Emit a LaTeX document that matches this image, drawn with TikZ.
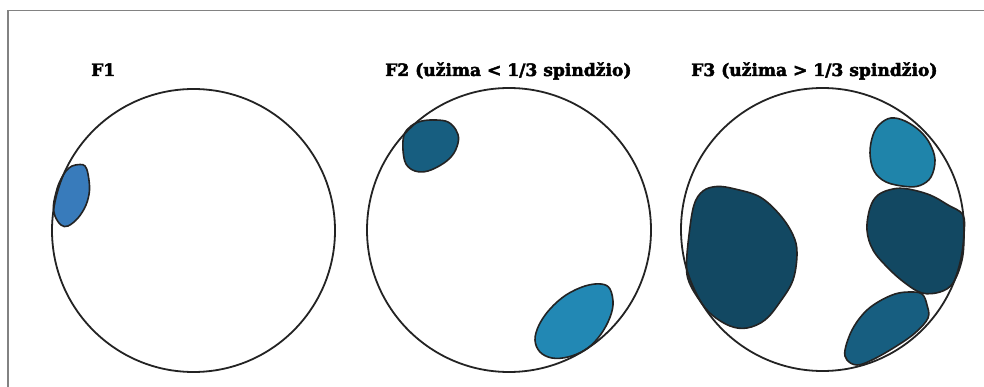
\documentclass[tikz,border=0pt]{standalone}
\usepackage{fontspec}
\newfontfamily\labelfont[BoldFeatures={FakeBold=2.5}]{DejaVu Serif}
\definecolor{frameGray}{RGB}{130,130,130}
\definecolor{edgeDark}{RGB}{35,35,35}
\definecolor{blobA}{RGB}{56,123,187}
\definecolor{blobB}{RGB}{23,94,128}
\definecolor{blobC}{RGB}{34,136,180}
\definecolor{blobD}{RGB}{31,132,170}
\definecolor{blobE}{RGB}{18,72,98}
\begin{document}
\begin{tikzpicture}[x=1pt,y=-1pt,
  cell/.style={draw=edgeDark,line width=1.8pt},
  blob/.style={draw=edgeDark,line width=1.6pt},
  title/.style={anchor=base west,inner sep=0pt,font=\labelfont\bfseries\fontsize{17.1}{20}\selectfont}]
\useasboundingbox (0,0) rectangle (984,387);
\fill[white] (0,0) rectangle (984,387);
% frame
\draw[frameGray,line width=1.2pt] (8,387) -- (8,10.5) -- (984,10.5);
% titles
\node[title] (t1) at (91,76) {F1};
\node[title] (t2) at (385,76) {F2 (užima < 1/3 spindžio)};
\node[title] (t3) at (691,76) {F3 (užima > 1/3 spindžio)};
% F1
\draw[blob,fill=blobA] plot[smooth cycle,tension=0.6] coordinates {(66,171) (72,166) (80,164.5) (85,166) (88,174) (89.5,190) (86,205) (78,218) (68,226) (61,225) (55,216) (53.5,205) (57,189) (61,179)};
\draw[cell] (193.5,230.5) circle (141.5);
% F2
\draw[blob,fill=blobB] plot[smooth cycle,tension=0.6] coordinates {(404,135) (411,126) (422,121) (436,120) (448,122) (456,130) (458.5,140) (454,153) (444,163) (428,171) (415,171) (406,164) (403,150)};
\draw[blob,fill=blobC] plot[smooth cycle,tension=0.6] coordinates {(613,305) (608,322) (598,338) (585,350) (568,357) (552,358) (540,352) (535,340) (539,325) (550,309) (566,295) (585,286) (601,284) (610,289)};
\draw[cell] (509,230) circle (142);
% F3
\draw[blob,fill=blobE] plot[smooth cycle,tension=0.6] coordinates {(703,191) (717,186.5) (735,189) (760,197) (780,215) (793,235) (797,253) (793,280) (780,302) (765,320) (747,328) (730,326) (712,315) (700,301) (689,282) (686.5,265) (689,235) (694,205)};
\draw[blob,fill=blobD] plot[smooth cycle,tension=0.6] coordinates {(880,124) (891,118) (905,121) (920,131) (930,144) (935,160) (931,177) (920,185.5) (906,186.5) (886,182) (874,171) (870,153) (873,135)};
\draw[blob,fill=blobE] plot[smooth cycle,tension=0.6] coordinates {(878,195) (893,189) (908,189) (930,195) (948,205) (963,215) (964,235) (962,260) (953,283) (940,292) (922,293) (905,283) (888,268) (873,250) (867,230) (870,208)};
\draw[blob,fill=blobB] plot[smooth cycle,tension=0.6] coordinates {(878,302) (895,294) (910,292) (922,294) (927,305) (928,318) (915,333) (895,347) (872,360) (857,365) (847,360) (845,350) (852,330) (864,313)};
\draw[cell] (822.5,229.5) circle (141.5);
\end{tikzpicture}
\end{document}
